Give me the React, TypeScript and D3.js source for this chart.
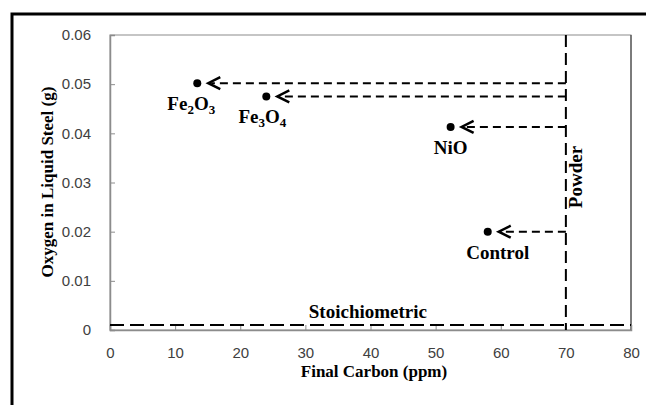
import React, { useEffect, useRef } from 'react';
import * as d3 from 'd3';

// sample names, final carbon (ppm) and oxygen (g)
const samples = ['Fe2O3', 'Fe3O4', 'NiO', 'Control'];
const carbon = [13.4, 24.0, 52.3, 58.0];
const oxygen = [0.0502, 0.0475, 0.0413, 0.0200];
// label parts: [text, isSubscript]
const labelParts: [string, boolean][][] = [
    [['Fe', false], ['2', true], ['O', false], ['3', true]],
    [['Fe', false], ['3', true], ['O', false], ['4', true]],
    [['NiO', false]],
    [['Control', false]],
];
const labelShift = [-6, -4, 0, 10];

const powderCarbon = 70;
const stoichOxygen = 0.001;
const xTicks = [0, 10, 20, 30, 40, 50, 60, 70, 80];
const yTicks = [0, 0.01, 0.02, 0.03, 0.04, 0.05, 0.06];

const SERIF = '"Liberation Serif", "Times New Roman", serif';
const SANS = '"Liberation Sans", Arial, sans-serif';

export default function App() {
    const svgRef = useRef<SVGSVGElement>(null);

    useEffect(() => {
        if (!svgRef.current) return;
        const svg = d3.select(svgRef.current);
        svg.selectAll('*').remove();

        const margin = { top: 35, left: 110 };

        const x = d3.scaleLinear().domain([0, 80]).range([margin.left, 631]);
        const y = d3.scaleLinear().domain([0, 0.06]).range([330, margin.top]);

        // outer frame
        svg.append('rect')
            .attr('x', 12).attr('y', 14)
            .attr('width', 700).attr('height', 500)
            .attr('fill', 'white')
            .attr('stroke', 'black')
            .attr('stroke-width', 3);

        // plot area border
        svg.append('rect')
            .attr('x', x(0)).attr('y', y(0.06))
            .attr('width', x(80) - x(0)).attr('height', y(0) - y(0.06))
            .attr('fill', 'none')
            .attr('stroke', '#8c8c8c')
            .attr('stroke-width', 1);
        svg.append('line')
            .attr('x1', x(80)).attr('x2', x(80))
            .attr('y1', y(0.06)).attr('y2', y(0))
            .attr('stroke', '#333').attr('stroke-width', 1);

        // axes
        const xAxis = svg.append('g')
            .attr('transform', `translate(0,${y(0)})`)
            .call(d3.axisBottom(x).tickValues(xTicks).tickSize(-5).tickPadding(17).tickFormat(d3.format('d')));
        const yAxis = svg.append('g')
            .attr('transform', `translate(${x(0)},0)`)
            .call(d3.axisLeft(y).tickValues(yTicks).tickSize(-5).tickPadding(19).tickFormat(d => d === 0 ? '0' : d3.format('.2f')(d as number)));
        [xAxis, yAxis].forEach(g => {
            g.select('.domain').attr('stroke', '#8c8c8c').attr('stroke-width', 1.5);
            g.selectAll('.tick line').attr('stroke', '#8c8c8c');
            g.selectAll('.tick text')
                .attr('fill', '#404040')
                .style('font-family', SANS)
                .style('font-size', '15px');
        });

        // axis titles
        svg.append('text')
            .attr('x', 374).attr('y', 377)
            .attr('text-anchor', 'middle')
            .style('font-family', SERIF).style('font-weight', 'bold').style('font-size', '17px')
            .text('Final Carbon (ppm)');
        svg.append('text')
            .attr('transform', 'rotate(-90)')
            .attr('x', -182).attr('y', 53)
            .attr('text-anchor', 'middle')
            .style('font-family', SERIF).style('font-weight', 'bold').style('font-size', '17px')
            .text('Oxygen in Liquid Steel (g)');

        // stoichiometric line
        svg.append('line')
            .attr('x1', x(0)).attr('x2', x(80))
            .attr('y1', y(stoichOxygen)).attr('y2', y(stoichOxygen))
            .attr('stroke', 'black').attr('stroke-width', 2)
            .attr('stroke-dasharray', '14,6');
        svg.append('text')
            .attr('x', x(39.6)).attr('y', y(stoichOxygen) - 7.5)
            .attr('text-anchor', 'middle')
            .style('font-family', SERIF).style('font-weight', 'bold').style('font-size', '19px')
            .text('Stoichiometric');

        // powder line
        svg.append('line')
            .attr('x1', x(powderCarbon)).attr('x2', x(powderCarbon))
            .attr('y1', y(0.06)).attr('y2', y(0))
            .attr('stroke', 'black').attr('stroke-width', 2)
            .attr('stroke-dasharray', '12,6');
        svg.append('text')
            .attr('transform', 'rotate(-90)')
            .attr('x', -177).attr('y', x(powderCarbon) + 16)
            .attr('text-anchor', 'middle')
            .style('font-family', SERIF).style('font-weight', 'bold').style('font-size', '19px')
            .text('Powder');

        // arrows from powder line to each point
        const tipGap = 11;
        samples.forEach((_, i) => {
            const px = x(carbon[i]);
            const py = y(oxygen[i]);
            const tip = px + tipGap;
            svg.append('line')
                .attr('x1', x(powderCarbon)).attr('x2', tip + 3)
                .attr('y1', py).attr('y2', py)
                .attr('stroke', 'black').attr('stroke-width', 2)
                .attr('stroke-dasharray', '8,5');
            svg.append('path')
                .attr('d', d3.line()([[tip + 12, py - 6], [tip, py], [tip + 12, py + 6]]))
                .attr('fill', 'none')
                .attr('stroke', 'black').attr('stroke-width', 2.5);
            svg.append('circle')
                .attr('cx', px).attr('cy', py).attr('r', 4)
                .attr('fill', 'black');

            const t = svg.append('text')
                .attr('x', px + labelShift[i]).attr('y', py + 27)
                .attr('text-anchor', 'middle')
                .style('font-family', SERIF).style('font-weight', 'bold').style('font-size', '19px');
            labelParts[i].forEach(([s, sub]) => {
                const ts = t.append('tspan').text(s);
                if (sub) ts.style('font-size', '13px').attr('dy', 4);
                else ts.attr('dy', t.selectAll('tspan').size() > 1 ? -4 : 0);
            });
        });
    }, []);

    return (
        <svg ref={svgRef} width={646} height={405} viewBox="0 0 646 405"
            style={{ position: 'absolute', left: 0, top: 0, display: 'block', background: 'white' }} />
    );
}
